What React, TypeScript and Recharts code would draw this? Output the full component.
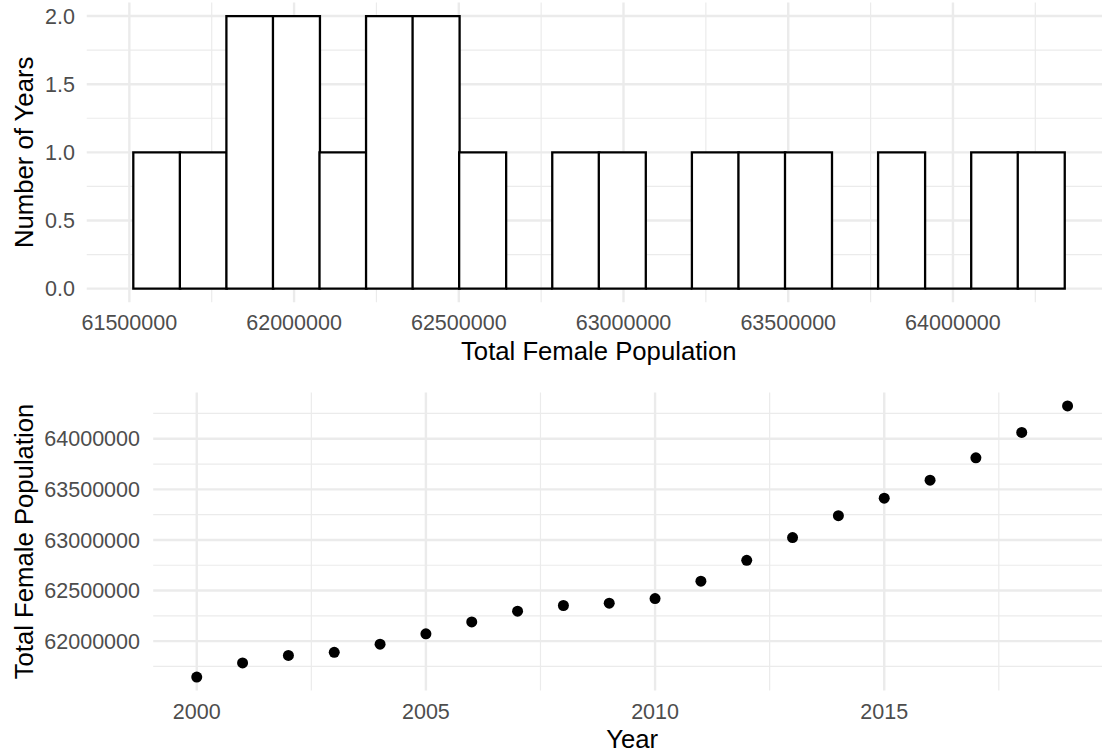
import React from 'react';
import {
  ComposedChart,
  ScatterChart,
  Bar,
  Scatter,
  XAxis,
  YAxis,
  CartesianGrid,
} from 'recharts';

// yearly totals
const years = [
  2000, 2001, 2002, 2003, 2004, 2005, 2006, 2007, 2008, 2009,
  2010, 2011, 2012, 2013, 2014, 2015, 2016, 2017, 2018, 2019,
];
const femalePopulation = [
  61645000, 61785000, 61859000, 61889000, 61970000, 62072000, 62190000, 62296000, 62352000, 62375000,
  62421000, 62592000, 62799000, 63023000, 63240000, 63413000, 63591000, 63812000, 64062000, 64324000,
];

// histogram bins (20 bins) and counts
const binStart = 61512000;
const binWidth = 141300;
const binCounts = [1, 1, 2, 2, 1, 2, 2, 1, 0, 1, 1, 0, 1, 1, 1, 0, 1, 0, 1, 1];

// axis ticks / grid
const histXTicks = [61500000, 62000000, 62500000, 63000000, 63500000, 64000000];
const histXMinor = [61750000, 62250000, 62750000, 63250000, 63750000, 64250000];
const histYTicks = [0, 0.5, 1, 1.5, 2];
const histYMinor = [0.25, 0.75, 1.25, 1.75];
const histXDomain = [61370700, 64479300];
const histYDomain = [-0.1, 2.1];

const yearTicks = [2000, 2005, 2010, 2015];
const yearMinor = [2002.5, 2007.5, 2012.5, 2017.5];
const popTicks = [62000000, 62500000, 63000000, 63500000, 64000000];
const popMinor = [61750000, 62250000, 62750000, 63250000, 63750000, 64250000];
const yearDomain = [1999.05, 2019.95];
const popDomain = [61511050, 64457950];

const histData = binCounts.map((count, i) => ({
  mid: binStart + (i + 0.5) * binWidth,
  count,
}));

const scatterData = years.map((year, i) => ({ year, population: femalePopulation[i] }));

const GRID = '#EBEBEB';
const TICK = { fill: '#4D4D4D', fontSize: 21.5 };
const TITLE = { fill: '#000000', fontSize: 25.7 };

const HistBar = (props: any) => {
  const { x, y, width, height } = props;
  if (x == null || y == null) return null;
  return (
    <path
      d={`M${x},${y + height}V${y}H${x + width}V${y + height}Z`}
      fill="#ffffff"
      stroke="#000000"
      strokeWidth={2.3}
    />
  );
};

const Dot = (props: any) => <circle cx={props.cx} cy={props.cy} r={5.5} fill="#000000" />;

export default function App() {
  return (
    <div
      style={{
        position: 'absolute',
        left: 0,
        top: 0,
        width: 1102,
        height: 755,
        overflow: 'hidden',
        background: '#ffffff',
        fontFamily: '"Liberation Sans", Arial, sans-serif',
      }}
    >
      <div style={{ position: 'absolute', left: 0, top: 0 }}>
        <ComposedChart
          width={1120}
          height={370}
          data={histData}
          margin={{ top: 2.4, right: 9.15, bottom: 10, left: 0 }}
          barCategoryGap={0}
          barGap={0}
        >
          <CartesianGrid
            stroke={GRID}
            strokeWidth={1.2}
            verticalValues={histXMinor}
            horizontalValues={histYMinor}
            syncWithTicks
          />
          <CartesianGrid
            stroke={GRID}
            strokeWidth={2.4}
            verticalValues={histXTicks}
            horizontalValues={histYTicks}
            syncWithTicks
          />
          <XAxis
            type="number"
            dataKey="mid"
            domain={histXDomain}
            ticks={histXTicks}
            interval={0}
            allowDataOverflow
            axisLine={false}
            tickLine={false}
            tickSize={0}
            tickMargin={12.7}
            height={57.7}
            tick={TICK}
            label={{ value: 'Total Female Population', position: 'insideBottom', offset: 0, style: TITLE }}
          />
          <YAxis
            type="number"
            domain={histYDomain}
            ticks={histYTicks}
            interval={0}
            allowDataOverflow
            axisLine={false}
            tickLine={false}
            tickSize={0}
            tickMargin={11.75}
            width={86.75}
            tick={TICK}
            tickFormatter={(v: number) => v.toFixed(1)}
            label={{
              value: 'Number of Years',
              angle: -90,
              position: 'insideLeft',
              offset: 23.5,
              style: { ...TITLE, textAnchor: 'middle' },
            }}
          />
          <Bar dataKey="count" shape={<HistBar />} isAnimationActive={false} />
        </ComposedChart>
      </div>

      <div style={{ position: 'absolute', left: 0, top: 370 }}>
        <ScatterChart
          width={1120}
          height={385}
          margin={{ top: 22.4, right: 8.9, bottom: 7, left: 0 }}
        >
          <CartesianGrid
            stroke={GRID}
            strokeWidth={1.2}
            verticalValues={yearMinor}
            horizontalValues={popMinor}
            syncWithTicks
          />
          <CartesianGrid
            stroke={GRID}
            strokeWidth={2.4}
            verticalValues={yearTicks}
            horizontalValues={popTicks}
            syncWithTicks
          />
          <XAxis
            type="number"
            dataKey="year"
            domain={yearDomain}
            ticks={yearTicks}
            interval={0}
            allowDataOverflow
            axisLine={false}
            tickLine={false}
            tickSize={0}
            tickMargin={12.7}
            height={57.4}
            tick={TICK}
            label={{ value: 'Year', position: 'insideBottom', offset: 0, style: TITLE }}
          />
          <YAxis
            type="number"
            dataKey="population"
            domain={popDomain}
            ticks={popTicks}
            interval={0}
            allowDataOverflow
            axisLine={false}
            tickLine={false}
            tickSize={0}
            tickMargin={13.2}
            width={153.2}
            tick={TICK}
            label={{
              value: 'Total Female Population',
              angle: -90,
              position: 'insideLeft',
              offset: 23.5,
              style: { ...TITLE, textAnchor: 'middle' },
            }}
          />
          <Scatter data={scatterData} shape={<Dot />} isAnimationActive={false} />
        </ScatterChart>
      </div>
    </div>
  );
}
